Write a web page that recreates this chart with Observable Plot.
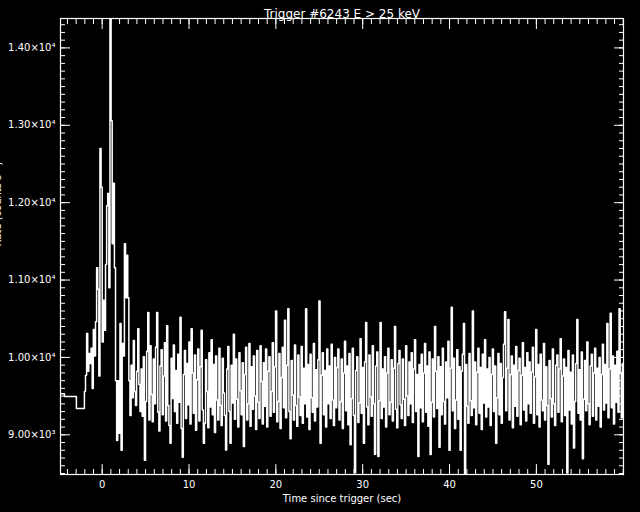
<!DOCTYPE html>
<html>
<head>
<meta charset="utf-8">
<script src="https://cdn.jsdelivr.net/npm/d3@7"></script>
<script src="https://cdn.jsdelivr.net/npm/@observablehq/plot@0.6"></script>
<style>
  html, body { margin: 0; padding: 0; background: #000; }
  #chart svg { display: block; }
</style>
</head>
<body>
<div id="chart"></div>
<script>
// ---- texts ----
const titleText = "Trigger #6243 E > 25 keV";
const xLabel = "Time since trigger (sec)";
const yLabel = "Rate (counts s\u207B\u00B9)";

// ---- coarse pre-trigger bins (start times, rates) ----
const preStarts = [-4.8, -4.35, -2.97];
const preRates = [9530, 9495, 9340];

// ---- fine bins: start and width (s), rates ----
const binStart = -2.048;
const binWidth = 0.128;
const rates = [
  // burst
  9560, 9770, 10310, 9820, 10050, 9920, 10120, 9600, 10360, 10020,
  10460, 11160, 10880, 9760, 12700, 12200, 10200, 10740, 10350, 11200,
  11960, 12120, 10900, 14380, 13060, 11470, 12250, 11160, 9700, 8925,
  9700, 9020, 10440, 8800, 10180, 10020, 11470, 10770, 11320, 10770,
  9700, 9250, 9900, 9480, 10220, 9560, 9380, 9820, 10370, 9650,
  9300,
  // background
  9850, 9240, 10010, 8670, 9430, 10080, 10580, 9190, 10150, 9520,
  9170, 9980, 9400, 10130, 10580, 9290, 9050, 9890, 10100, 9260,
  9760, 10190, 9180, 10410, 9380, 9120, 8890, 9990, 9470, 10160,
  9300, 9830, 9150, 10040, 9420, 10520, 9080, 8710, 9780, 10090,
  9210, 9920, 9390, 10200, 9140, 10370, 9800, 9280, 10030, 9060,
  9710, 10110, 9180, 9880, 10350, 9320, 8890, 9150, 9970, 9560,
  9090, 10060, 9360, 10230, 9260, 9910, 9030, 10020, 9450, 9190,
  10120, 9380, 9120, 9990, 9540, 9250, 8805, 9850, 10140, 9300,
  8890, 9900, 9410, 10300, 9200, 9980, 9460, 9100, 10060, 9570,
  9260, 9930, 8850, 9780, 10130, 9190, 9400, 10180, 9110, 9880,
  9330, 10020, 9500, 9070, 10090, 9420, 9210, 10150, 9690, 9140,
  9930, 9370, 10110, 9100, 9820, 10010, 9240, 9560, 10190, 9290,
  9880, 10600, 9170, 9430, 10050, 9080, 9740, 10130, 9350, 10480,
  9220, 9900, 10630, 9300, 8950, 9960, 9510, 9190, 10160, 9380,
  9110, 10030, 9490, 9250, 10140, 9150, 9860, 9400, 10630, 9230,
  9910, 9070, 10040, 9480, 9290, 10180, 9180, 9840, 9360, 9970,
  10730, 8890, 9770, 10060, 9260, 9830, 9100, 10110, 9400, 9890,
  9210, 10170, 9450, 9120, 10000, 9350, 9870, 10110, 9190, 9430,
  9980, 9080, 9800, 10210, 9310, 9890, 9130, 10050, 8870, 9470,
  10120, 9250, 8510, 9830, 10010, 9160, 9410, 10240, 9280, 9870,
  8890, 9940, 10450, 9360, 9130, 10030, 9490, 9240, 10150, 9400,
  8750, 9890, 10070, 8720, 9440, 10450, 9210, 9850, 9360, 10010,
  9100, 9800, 10120, 9260, 9420, 9970, 9180, 9860, 10400, 9330,
  9090, 9920, 10090, 9390, 9210, 9980, 9460, 9120, 10150, 9500,
  9250, 9940, 9400, 10060, 9160, 9850, 10230, 9300, 9780, 8720,
  9910, 9350, 10040, 9170, 9800, 10180, 9290, 9890, 9110, 10070,
  8745, 9420, 9980, 9230, 10400, 9820, 9340, 10010, 8840, 9880,
  9260, 10120, 9430, 9140, 9940, 9480, 10210, 8800, 9860, 10650,
  9310, 9990, 9080, 9450, 10100, 9200, 9880, 8800, 9820, 10040,
  10440, 8487, 9910, 9370, 9150, 10050, 9440, 9250, 10600, 9350,
  9940, 9130, 9810, 10120, 9280, 9870, 9070, 10040, 9410, 10230,
  9230, 9850, 9360, 10000, 9120, 9780, 10110, 9300, 9890, 8890,
  9480, 10050, 9260, 9920, 9150, 9740, 10170, 10590, 9310, 9860,
  10490, 9190, 9780, 10020, 9090, 9900, 9370, 10140, 9240, 9830,
  9990, 9130, 9770, 10190, 9320, 9870, 9180, 10060, 9400, 9940,
  9280, 9810, 10130, 9150, 9750, 10360, 9260, 9910, 9100, 10040,
  9450, 9310, 10180, 9190, 9880, 9380, 8620, 9960, 9470, 9230,
  10110, 9400, 9120, 9900, 10030, 9290, 9850, 10240, 9170, 9760,
  9980, 9250, 9870, 8505, 10090, 9320, 9810, 9140, 10030, 8830,
  9430, 9920, 10490, 9280, 9840, 9190, 10070, 8690, 9460, 9960,
  9310, 10200, 9400, 9130, 9890, 10040, 9240, 9800, 10120, 9190,
  9860, 9370, 10000, 9100, 9780, 10170, 9320, 9910, 9410, 10440,
  9220, 9850, 10570, 9350, 10020, 9140, 9900, 9420, 10080, 9290,
  10630, 9800, 9220, 9920
];

// ---- axis ticks ----
const xMajor = [0, 10, 20, 30, 40, 50];
const xMajorLabels = ["0", "10", "20", "30", "40", "50"];
const xMinor = d3.range(-4, 61, 1);
const yMajor = [9000, 10000, 11000, 12000, 13000, 14000];
const yMajorLabels = ["9.00\u00D710\u00B3", "1.00\u00D710\u2074", "1.10\u00D710\u2074", "1.20\u00D710\u2074", "1.30\u00D710\u2074", "1.40\u00D710\u2074"];
const yMinor = d3.range(8500, 14400, 100);

// ---- build step table ----
const starts = preStarts.concat(rates.map((_, i) => binStart + i * binWidth));
const vals = preRates.concat(rates);
const data = starts.map((t, i) => ({t, v: vals[i]}));
data.push({t: binStart + rates.length * binWidth, v: rates[rates.length - 1]});

const white = "#ffffff";
const font = "DejaVu Sans, Liberation Sans, sans-serif";

const plot = Plot.plot({
  width: 640,
  height: 512,
  marginLeft: 60,
  marginRight: 17,
  marginTop: 18,
  marginBottom: 38,
  style: {background: "#000", color: white, fontFamily: font, fontSize: "10px"},
  x: {domain: d3.extent(data, d => d.t)},
  y: {domain: d3.extent(data, d => d.v)},
  marks: [
    Plot.line(data, {x: "t", y: "v", curve: "step-after", stroke: white, strokeWidth: 1.5, clip: true}),
    Plot.frame({stroke: white, strokeWidth: 1.2}),
    // inward ticks on four sides
    Plot.axisX(xMinor, {anchor: "bottom", tickSize: -5, fill: "none", stroke: white, label: null}),
    Plot.axisX(xMajor, {anchor: "bottom", tickSize: -10, fill: "none", stroke: white, label: null}),
    Plot.axisX(xMinor, {anchor: "top", tickSize: -5, fill: "none", stroke: white, label: null}),
    Plot.axisX(xMajor, {anchor: "top", tickSize: -10, fill: "none", stroke: white, label: null}),
    Plot.axisY(yMinor, {anchor: "left", tickSize: -5, fill: "none", stroke: white, label: null}),
    Plot.axisY(yMajor, {anchor: "left", tickSize: -10, fill: "none", stroke: white, label: null}),
    Plot.axisY(yMinor, {anchor: "right", tickSize: -5, fill: "none", stroke: white, label: null}),
    Plot.axisY(yMajor, {anchor: "right", tickSize: -10, fill: "none", stroke: white, label: null}),
    // tick labels
    Plot.axisX(xMajor, {anchor: "bottom", tickSize: 0, tickPadding: 6, fill: white, label: null,
      tickFormat: d => xMajorLabels[xMajor.indexOf(d)]}),
    Plot.axisY(yMajor, {anchor: "left", tickSize: 0, tickPadding: 5, fill: white, label: null,
      tickFormat: d => yMajorLabels[yMajor.indexOf(d)]}),
    // titles
    Plot.text([titleText], {frameAnchor: "top", dy: -9, fill: white, fontSize: 12}),
    Plot.text([xLabel], {frameAnchor: "bottom", dy: 27, fill: white, fontSize: 10}),
    Plot.text([yLabel], {frameAnchor: "left", dx: -63, rotate: -90, fill: white, fontSize: 10})
  ]
});
document.getElementById("chart").appendChild(plot);
</script>
</body>
</html>
